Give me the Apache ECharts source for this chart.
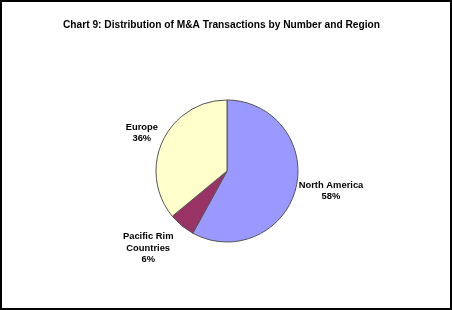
<!DOCTYPE html>
<html><head><meta charset="utf-8">
<script src="https://cdn.jsdelivr.net/npm/echarts@6/dist/echarts.min.js"></script>
<style>html,body{margin:0;padding:0;background:#fff;}#c{width:452px;height:310px;box-sizing:border-box;border:2px solid #000;}</style>
</head><body><div id="c"></div>
<script>
const categories = ['North America', 'Pacific Rim\nCountries', 'Europe'];
const values = [58, 6, 36];
const colors = ['#9999FF', '#993366', '#FFFFCC'];
const labelShift = [[-4, 2], [-2, 21], [2, -7]];
const chart = echarts.init(document.getElementById('c'));
chart.setOption({
  animation: false,
  title: {
    text: 'Chart 9: Distribution of M&A Transactions by Number and Region',
    left: 56, top: 13,
    textStyle: {fontFamily: 'Liberation Sans', fontWeight: 'bold', fontSize: 10.2, color: '#000'}
  },
  series: [{
    type: 'pie',
    center: [225, 169],
    radius: 71,
    startAngle: 90,
    clockwise: true,
    data: categories.map((c, i) => ({name: c, value: values[i], itemStyle: {color: colors[i]}})),
    itemStyle: {borderColor: '#555', borderWidth: 1},
    label: {
      position: 'outside',
      formatter: '{b}\n{d}%',
      fontFamily: 'Liberation Sans', fontWeight: 'bold', fontSize: 9.4, color: '#000',
      lineHeight: 11.5
    },
    labelLine: {show: false, length: 2, length2: 0},
    labelLayout: function (p) {
      const r = p.labelRect;
      const s = labelShift[p.dataIndex];
      return {x: r.x + r.width / 2 + s[0], y: r.y + r.height / 2 + s[1], align: 'center', verticalAlign: 'middle'};
    },
    emphasis: {disabled: true}
  }]
});
</script></body></html>
